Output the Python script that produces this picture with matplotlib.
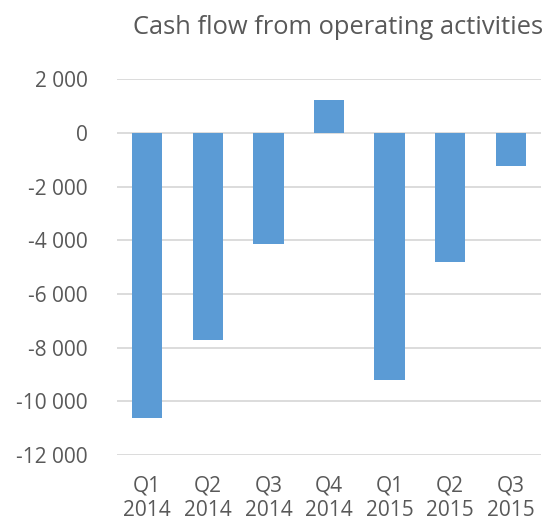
import numpy as np
import matplotlib.pyplot as plt
import matplotlib.ticker as mticker

plt.rcParams['font.family'] = ['Open Sans', 'DejaVu Sans']

quarters = ['Q1\n2014', 'Q2\n2014', 'Q3\n2014', 'Q4\n2014', 'Q1\n2015', 'Q2\n2015', 'Q3\n2015']
cash_flow = [-10630, -7720, -4150, 1230, -9210, -4820, -1240]
yticks = [2000, 0, -2000, -4000, -6000, -8000, -10000, -12000]

bar_color = '#5b9bd5'
grid_color = '#d9d9d9'
text_color = '#595959'


def space_thousands(v, pos):
    s = f'{abs(int(v)):,}'.replace(',', ' ')
    return ('-' if v < 0 else '') + s


fig = plt.figure(figsize=(5.5, 5.25), dpi=100)
ax = fig.add_axes([0.2127, 0.1335, 0.7709, 0.7155])

x = np.arange(len(quarters))
ax.bar(x, cash_flow, width=0.5, color=bar_color, zorder=3)

ax.set_xlim(-0.5, len(quarters) - 0.5)
ax.set_ylim(min(yticks), max(yticks))
ax.set_yticks(yticks)
ax.yaxis.set_major_formatter(mticker.FuncFormatter(space_thousands))
ax.set_xticks(x)
ax.set_xticklabels(quarters, linespacing=1.2)

ax.grid(axis='y', color=grid_color, lw=1.3, zorder=0)
for s in ax.spines.values():
    s.set_visible(False)
ax.tick_params(length=0, labelsize=15, colors=text_color)
ax.tick_params(axis='y', pad=21)
ax.tick_params(axis='x', pad=15)

fig.text(0.987, 0.947, 'Cash flow from operating activities', ha='right',
         va='center', fontsize=18.4, color=text_color)

plt.savefig('out.png')
